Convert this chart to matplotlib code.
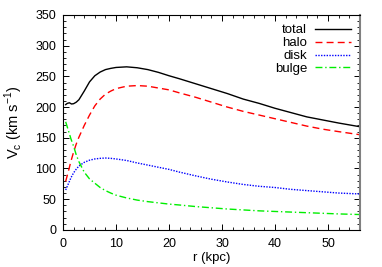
import matplotlib
matplotlib.use("Agg")
import matplotlib.pyplot as plt
from matplotlib.ticker import MultipleLocator

# radius grid (kpc) for the component curves
r = [0.5, 1, 1.5, 2, 2.5, 3, 4, 5, 6, 7, 8, 9, 10, 12, 14, 16, 18, 20, 22,
     25, 28, 31, 34, 37, 40, 43, 46, 49, 52, 56]
halo = [79, 95, 112, 127, 140, 151, 170, 187, 202, 213, 221, 226, 230, 234,
        235, 234, 231, 228, 223, 216, 208, 200, 193, 187, 181, 175, 169, 164,
        160, 155]
disk = [65, 75, 85, 93, 99, 104, 110, 113.5, 115.5, 116.5, 117, 116.5, 115.5,
        113, 109, 105.5, 102, 98.5, 94, 88, 82.5, 78, 74, 71, 69, 66, 64, 62,
        60, 58.5]
bulge = [176, 162, 148, 136, 122, 111, 94, 83, 76, 69, 64, 60, 56.5, 52, 48.5,
         46, 44, 42, 40.5, 38, 36, 34, 32.5, 31, 30, 29, 28, 27, 26, 25]

# total has a small wiggle near the centre, so it gets its own grid
r_total = [0.5, 0.8, 1.2, 1.6, 2, 2.5, 3, 4, 5, 6, 7, 8, 9, 10, 12, 14, 16,
           18, 20, 22, 25, 28, 31, 34, 37, 40, 43, 46, 49, 52, 56]
total = [204, 206, 207, 205, 205.5, 208, 212, 226, 241, 251, 257, 261, 263,
         264.5, 265.5, 264, 261, 256.5, 251, 246, 238, 230, 222, 213, 206, 198,
         191, 184, 179, 174, 168]

plt.rcParams["font.family"] = ["Liberation Sans", "DejaVu Sans"]
plt.rcParams["font.size"] = 9

fig = plt.figure(figsize=(3.82, 2.67), dpi=100)
ax = fig.add_axes([0.165, 0.139, 0.777, 0.805])

ax.plot(r_total, total, color="black", lw=1.0, label="total")
ax.plot(r, halo, color="#ff0000", lw=1.0, dashes=(5, 3), label="halo")
ax.plot(r, disk, color="#0000ff", lw=1.0, dashes=(1, 1), label="disk")
ax.plot(r, bulge, color="#00ee00", lw=1.0, dashes=(5, 2, 1, 2), label="bulge")

ax.set_xlim(0, 56)
ax.set_ylim(0, 350)
ax.xaxis.set_major_locator(MultipleLocator(10))
ax.xaxis.set_minor_locator(MultipleLocator(2))
ax.yaxis.set_major_locator(MultipleLocator(50))
ax.yaxis.set_minor_locator(MultipleLocator(10))
ax.tick_params(which="both", direction="in", top=True, right=True)
ax.tick_params(which="major", length=4, width=0.7)
ax.tick_params(which="minor", length=2, width=0.6)
ax.tick_params(axis="x", which="major", pad=6)
ax.tick_params(axis="y", which="major", pad=5)
for s in ax.spines.values():
    s.set_linewidth(0.8)
ax.spines["right"].set_color("#808080")
ax.spines["right"].set_linewidth(1.5)

ax.set_xlabel("r (kpc)", labelpad=1, fontsize=9.5)
ax.set_ylabel("V$_\\mathregular{c}$ (km s$^\\mathregular{-1}$)", labelpad=7,
              fontsize=10.5)

ax.legend(loc="upper right", frameon=False, markerfirst=False,
          handlelength=2.7, labelspacing=0.05, handletextpad=0.6,
          borderaxespad=0.3, fontsize=9.5)

fig.savefig("out.png", dpi=100)
